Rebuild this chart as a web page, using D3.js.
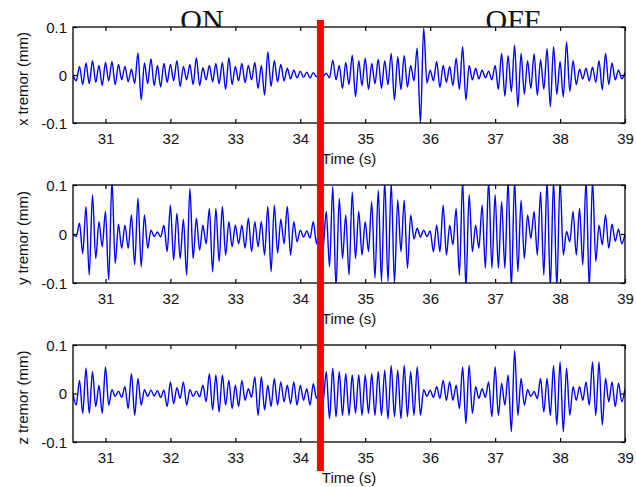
<!DOCTYPE html>
<html><head><meta charset="utf-8">
<script src="https://cdn.jsdelivr.net/npm/d3@7"></script>
<style>body{margin:0;background:#fff;}svg{display:block;}</style>
</head><body><svg id="c" width="636" height="487"></svg>
<script>
// ---------- data ----------
const startTime = 30.5;       // s, first sample
const sampleStep = 0.05;      // s between samples
const switchTime = 34.31;     // s, stimulation switched ON -> OFF
const xTicks = [31, 32, 33, 34, 35, 36, 37, 38, 39];
const yTicks = [-0.1, 0, 0.1];
const yTickLabels = ["-0.1", "0", "0.1"];
const axisTitles = ["x tremor (mm)", "y tremor (mm)", "z tremor (mm)"];
const timeTitle = "Time (s)";
const conditionLabels = ["ON", "OFF"];

// tremor amplitude in micrometres (1/1000 mm)
const xTremorUm = [
 0,-12,18,-20,25,-18,30,-15,20,-22,
 26,-12,28,-20,22,-10,18,-14,12,-18,
 46,-52,25,-18,34,-22,20,-25,24,-15,
 22,-12,30,-24,18,-10,22,-20,36,-22,
 15,-10,20,-14,24,-18,26,-30,36,-20,
 18,-12,24,-16,20,-10,26,-28,20,-42,
 48,-24,30,-14,22,-12,14,-8,10,-6,
 8,-5,6,-6,5,-4,6,-3,4,-6,
 31,-10,20,-28,26,-20,41,-45,30,-22,
 35,-30,24,-18,33,-28,30,-20,45,-52,
 38,-30,40,-25,20,-12,56,-100,98,-17,
 10,-12,28,-26,20,-15,18,-22,35,-30,
 59,-52,20,-10,14,-8,10,-6,8,-10,
 20,-30,45,-44,40,-35,62,-66,45,-40,
 30,-28,44,-42,32,-30,55,-66,59,-40,
 28,-46,69,-34,30,-20,12,-8,14,-12,
 16,-15,30,-31,45,-20,25,-10,10,-8,
 5];
const yTremorUm = [
 0,-5,22,-40,56,-84,80,-50,25,-26,
 46,-94,110,-60,20,-29,18,-29,39,-63,
 73,-67,39,-29,8,-5,4,-6,18,-36,
 59,-53,42,-50,30,-84,93,-50,32,-33,
 18,-20,52,-77,52,-56,56,-43,25,-26,
 18,-20,18,-29,32,-36,25,-26,25,-43,
 56,-77,59,-39,30,-20,56,-43,25,-16,
 8,-6,6,-8,25,-20,30,-30,46,-67,
 97,-110,73,-50,39,-84,86,-50,46,-43,
 25,-36,66,-90,90,-97,110,-97,105,-100,
 70,-36,69,-70,39,-10,12,-6,8,-5,
 6,-36,18,-36,59,-43,18,-22,52,-84,
 110,-110,80,-36,18,-29,59,-70,110,-70,
 80,-70,66,-70,110,-110,110,-77,69,-50,
 39,-9,46,-43,86,-84,110,-110,110,-110,
 110,-43,5,-16,46,-43,52,-63,110,-110,
 110,-56,18,-22,39,-29,20,-15,10,-20,
 0];
const zTremorUm = [
 0,-24,27,-41,52,-41,45,-27,17,-41,
 55,-24,8,-6,5,-8,14,-31,41,-45,
 31,-24,8,-6,7,-5,6,-8,7,-27,
 24,-21,12,-10,24,-24,8,-6,5,-7,
 17,-17,41,-34,38,-38,38,-24,27,-31,
 17,-27,27,-14,10,-8,34,-45,34,-34,
 17,-27,31,-24,24,-17,17,-21,24,-24,
 17,-14,10,-24,20,-10,8,-17,45,-52,
 52,-48,45,-45,41,-45,38,-41,38,-45,
 38,-41,41,-45,45,-45,48,-52,58,-48,
 48,-52,58,-48,45,-45,55,-45,8,-6,
 7,-8,14,-10,27,-14,24,-14,17,-31,
 55,-62,58,-41,14,-10,10,-8,24,-48,
 55,-45,21,-24,38,-79,89,-45,31,-24,
 8,-6,4,-10,31,-38,31,-45,58,-65,
 65,-79,52,-45,14,-14,14,-14,24,-24,
 65,-45,65,-65,31,-17,24,-27,21,-17,
 10];
const seriesList = [xTremorUm, yTremorUm, zTremorUm];

// ---------- layout ----------
const plotLeft = 73, plotRight = 625;
const panels = [{top: 27, bottom: 123}, {top: 185, bottom: 283}, {top: 345, bottom: 442}];
const svg = d3.select("#c");
const x = d3.scaleLinear().domain([30.5, 39]).range([plotLeft, plotRight]);
const sansFont = "'Liberation Sans', Arial, Helvetica, sans-serif";

// condition titles (partly hidden behind the top axes)
const titleLayer = svg.append("g");
titleLayer.append("text").attr("x", 202).attr("y", 30).attr("text-anchor", "middle")
  .attr("font-family", "'Liberation Serif', 'Times New Roman', serif").attr("font-size", 30)
  .attr("fill", "#111").text(conditionLabels[0]);
titleLayer.append("text").attr("x", 513).attr("y", 30).attr("text-anchor", "middle")
  .attr("font-family", "'Liberation Serif', 'Times New Roman', serif").attr("font-size", 30)
  .attr("fill", "#111").text(conditionLabels[1]);

panels.forEach((p, k) => {
  const y = d3.scaleLinear().domain([-0.1, 0.1]).range([p.bottom, p.top]);
  const g = svg.append("g");
  const w = plotRight - plotLeft, h = p.bottom - p.top;
  g.append("rect").attr("x", plotLeft).attr("y", p.top).attr("width", w).attr("height", h).attr("fill", "#fff");

  const clipId = "clip" + k;
  svg.append("clipPath").attr("id", clipId).append("rect")
    .attr("x", plotLeft).attr("y", p.top).attr("width", w).attr("height", h);

  const data = seriesList[k].map((v, i) => ({t: startTime + i * sampleStep, v: v / 1000}));
  const line = d3.line().x(d => x(d.t)).y(d => y(d.v)).curve(d3.curveMonotoneX);
  g.append("path").datum(data).attr("clip-path", `url(#${clipId})`)
    .attr("d", line).attr("fill", "none").attr("stroke", "#0000ff").attr("stroke-width", 1.4)
    .attr("stroke-linejoin", "round");

  // axes
  const axB = g.append("g").attr("transform", `translate(0,${p.bottom})`)
    .call(d3.axisBottom(x).tickValues(xTicks).tickSize(-4).tickPadding(10).tickFormat(d3.format("d")));
  const axT = g.append("g").attr("transform", `translate(0,${p.top})`)
    .call(d3.axisTop(x).tickValues(xTicks).tickSize(-4).tickFormat(""));
  const axL = g.append("g").attr("transform", `translate(${plotLeft},0)`)
    .call(d3.axisLeft(y).tickValues(yTicks).tickSize(-4).tickPadding(6)
      .tickFormat((d, i) => yTickLabels[i]));
  const axR = g.append("g").attr("transform", `translate(${plotRight},0)`)
    .call(d3.axisRight(y).tickValues(yTicks).tickSize(-4).tickFormat(""));
  [axB, axT, axL, axR].forEach(a => {
    a.select(".domain").remove();
    a.selectAll("line").attr("stroke", "#000").attr("stroke-width", 1.2);
    a.selectAll("text").attr("font-family", sansFont).attr("font-size", 15).attr("fill", "#111");
  });
  axL.selectAll("text").attr("dy", "0.36em");

  g.append("rect").attr("x", plotLeft).attr("y", p.top).attr("width", w).attr("height", h)
    .attr("fill", "none").attr("stroke", "#000").attr("stroke-width", 1.3);

  // axis titles
  g.append("text").attr("transform", `translate(28,${(p.top + p.bottom) / 2 + 4}) rotate(-90)`)
    .attr("text-anchor", "middle").attr("font-family", sansFont).attr("font-size", 15)
    .attr("fill", "#111").text(axisTitles[k]);
  g.append("text").attr("x", (plotLeft + plotRight) / 2).attr("y", p.bottom + 41)
    .attr("text-anchor", "middle").attr("font-family", sansFont).attr("font-size", 15)
    .attr("fill", "#111").text(timeTitle);
});

// stimulation switch marker
svg.append("rect").attr("x", x(switchTime) - 3.5).attr("y", 20).attr("width", 7).attr("height", 451)
  .attr("fill", "#ff0000");
</script></body></html>
